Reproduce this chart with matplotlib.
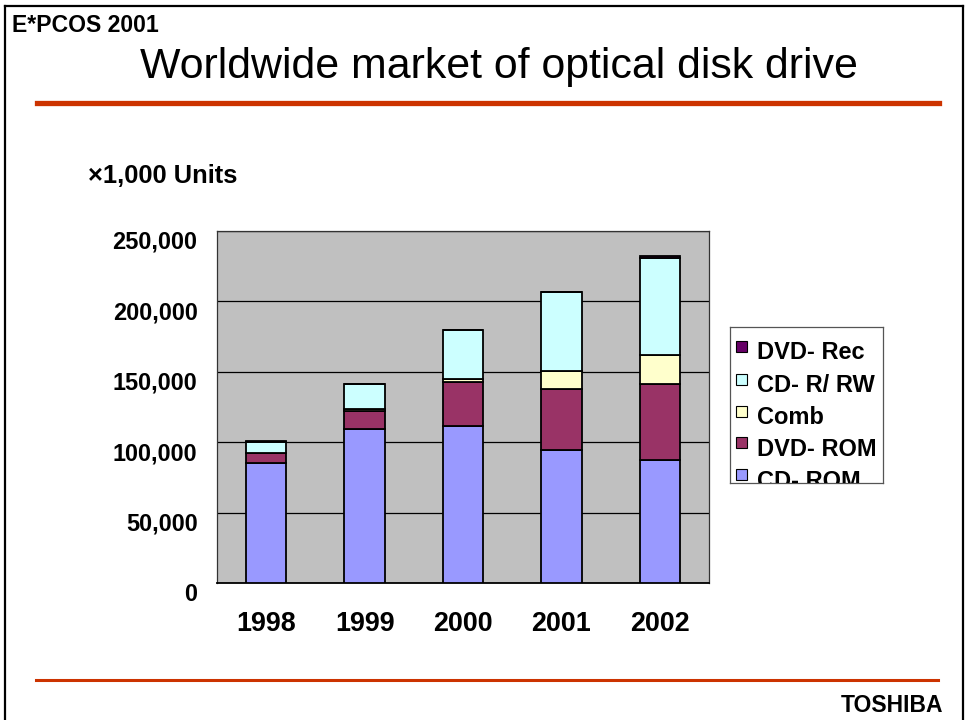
import matplotlib
matplotlib.use('Agg')
import matplotlib.pyplot as plt
from matplotlib.patches import Rectangle
from matplotlib.lines import Line2D
import numpy as np

plt.rcParams['font.family'] = ['Liberation Sans', 'DejaVu Sans']

years = ["1998", "1999", "2000", "2001", "2002"]
# thousand units per year
cd_rom = [85500, 109200, 111600, 94800, 87700]
dvd_rom = [7000, 13000, 31000, 43000, 53700]
comb = [0, 1400, 2400, 13000, 20500]
cd_rw = [8000, 17500, 34500, 56000, 68600]
dvd_rec = [700, 0, 0, 0, 1600]

series = [("CD- ROM", cd_rom, "#9999ff"),
          ("DVD- ROM", dvd_rom, "#993366"),
          ("Comb", comb, "#ffffcc"),
          ("CD- R/ RW", cd_rw, "#ccffff"),
          ("DVD- Rec", dvd_rec, "#660066")]

W, H = 966, 720
fig = plt.figure(figsize=(W / 100, H / 100), dpi=100)

def fx(px):
    return px / W

def fy(py):
    return 1 - py / H

# slide frame
fig.add_artist(Line2D([fx(5), fx(5)], [fy(6), 0], color='black', lw=1.6))
fig.add_artist(Line2D([fx(5), fx(963)], [fy(6), fy(6)], color='black', lw=1.6))
fig.add_artist(Line2D([fx(963), fx(963)], [fy(6), 0], color='black', lw=1.6))

# red rules
fig.add_artist(Line2D([fx(37), fx(939)], [fy(103), fy(103)], color='#cc3300', lw=3.8))
fig.add_artist(Line2D([fx(36), fx(938)], [fy(680), fy(680)], color='#cc3300', lw=2.2))

fig.text(fx(12), fy(25), "E*PCOS 2001", fontsize=16.6, fontweight='bold', va='center', ha='left')
fig.text(fx(499), fy(67), "Worldwide market of optical disk drive", fontsize=30.9, va='center', ha='center')
fig.text(fx(943), fy(706), "TOSHIBA", fontsize=16.5, fontweight='bold', va='center', ha='right')
fig.text(fx(88), fy(176), "\u00d71,000 Units", fontsize=18.4, fontweight='bold', va='center', ha='left')

ax = fig.add_axes([fx(217), fy(583.3), fx(709) - fx(217), fy(230.8) - fy(583.3)])
ax.set_facecolor('#c0c0c0')
x = np.arange(len(years))
bottom = np.zeros(len(years))
for name, vals, col in series:
    ax.bar(x, vals, width=0.41, bottom=bottom, color=col, edgecolor='black', linewidth=1.3, zorder=3)
    bottom += np.array(vals)

ax.set_xlim(-0.5, 4.5)
ax.set_ylim(0, 250000)
yt = np.arange(0, 250001, 50000)
ax.set_yticks(yt)
ax.set_yticklabels(["{:,}".format(v) for v in yt], fontsize=16.9, fontweight='bold')
for lab in ax.get_yticklabels():
    lab.set_va('top')
ax.set_xticks(x)
ax.set_xticklabels(years, fontsize=19.4, fontweight='bold')
ax.tick_params(axis='y', length=0, pad=14)
ax.tick_params(axis='x', length=0, pad=20)
ax.grid(axis='y', color='black', linewidth=0.9, zorder=1)
for s in ax.spines.values():
    s.set_color('#333333')
    s.set_linewidth(0.9)
ax.spines['bottom'].set_color('black')
ax.spines['bottom'].set_linewidth(1.3)

# legend box, cut off at the bottom like the original slide
lg = fig.add_axes([fx(730), fy(483), fx(883) - fx(730), fy(327) - fy(483)])
lg.set_xlim(0, 153)
lg.set_ylim(156, 0)
lg.set_xticks([])
lg.set_yticks([])
for s in lg.spines.values():
    s.set_color('#555555')
    s.set_linewidth(0.9)
entry_y = [25, 58, 90, 121, 153]
for (name, vals, col), yy in zip(series[::-1], entry_y):
    lg.add_patch(Rectangle((6, yy - 11), 11, 11, facecolor=col, edgecolor='black', lw=0.8))
    lg.text(27, yy + 1, name, fontsize=17, fontweight='bold', va='center', ha='left', clip_on=True)

fig.savefig("out.png", dpi=100)
